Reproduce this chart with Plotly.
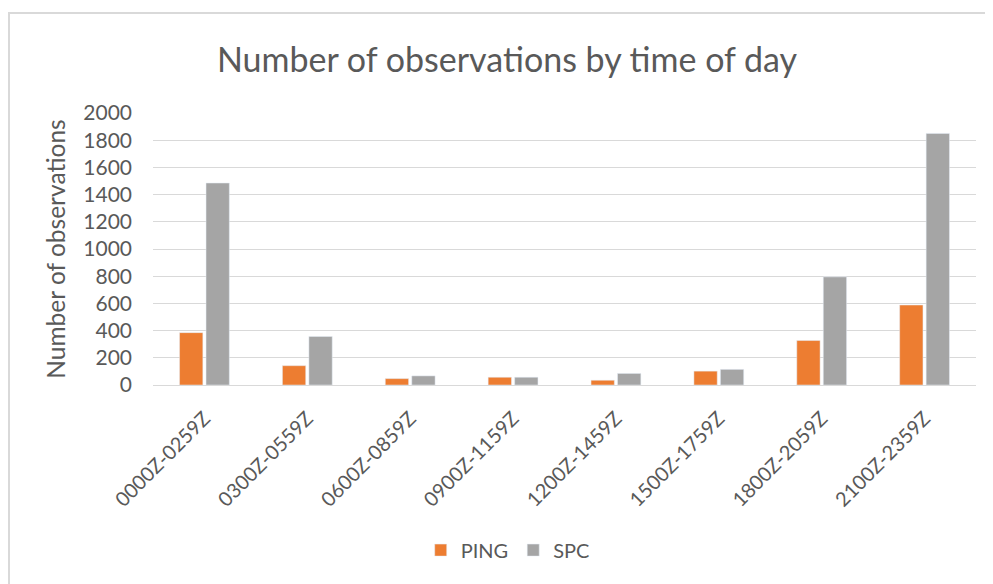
import plotly.graph_objects as go

# Time-of-day bins and observation counts
time_bins = ["0000Z-0259Z", "0300Z-0559Z", "0600Z-0859Z", "0900Z-1159Z",
             "1200Z-1459Z", "1500Z-1759Z", "1800Z-2059Z", "2100Z-2359Z"]
ping_counts = [385, 142, 47, 57, 35, 102, 327, 588]
spc_counts = [1485, 357, 67, 57, 85, 115, 795, 1850]
y_ticks = [0, 200, 400, 600, 800, 1000, 1200, 1400, 1600, 1800, 2000]

font_family = "Lato, 'Open Sans', sans-serif"
text_color = "#595959"
grid_color = "#D9D9D9"

fig = go.Figure()
fig.add_trace(go.Bar(x=time_bins, y=ping_counts, name="PING", marker_color="#ED7D31"))
fig.add_trace(go.Bar(x=time_bins, y=spc_counts, name="SPC", marker_color="#A5A5A5"))

# page body has an 8px margin, so the figure is sized to fill the rest of the window
fig.update_layout(
    width=985,
    height=576,
    font=dict(family=font_family, color=text_color, size=20),
    title=dict(text="Number of observations by time of day", x=0.5066, xanchor="center",
               y=0.91, yanchor="middle", font=dict(size=34, color=text_color)),
    barmode="group",
    bargap=0.485,
    bargroupgap=0.12,
    plot_bgcolor="white",
    paper_bgcolor="white",
    margin=dict(l=145, r=17, t=105, b=199),
    xaxis=dict(
        type="category",
        tickangle=-45,
        showgrid=False,
        showline=True,
        linecolor=grid_color,
        linewidth=1,
        ticks="",
        ticklabelstandoff=13,
        tickfont=dict(size=20, color=text_color),
    ),
    yaxis=dict(
        range=[0, 2000],
        tickvals=y_ticks,
        showgrid=True,
        gridcolor=grid_color,
        gridwidth=1,
        zeroline=False,
        ticks="",
        ticklabelstandoff=20,
        tickfont=dict(size=21, color=text_color),
        title=dict(text="Number of observations", font=dict(size=24.5, color=text_color), standoff=10),
    ),
    legend=dict(
        orientation="h",
        x=0.431, xanchor="center",
        y=-0.607, yanchor="middle",
        font=dict(size=20, color=text_color),
        itemwidth=30,
    ),
    # light chart-area border like the spreadsheet frame
    shapes=[dict(type="rect", xref="paper", yref="paper",
                 x0=-0.175, x1=1.1, y0=-0.9, y1=1.368,
                 line=dict(color=grid_color, width=2), layer="below")],
)

fig.write_html("out.html")
